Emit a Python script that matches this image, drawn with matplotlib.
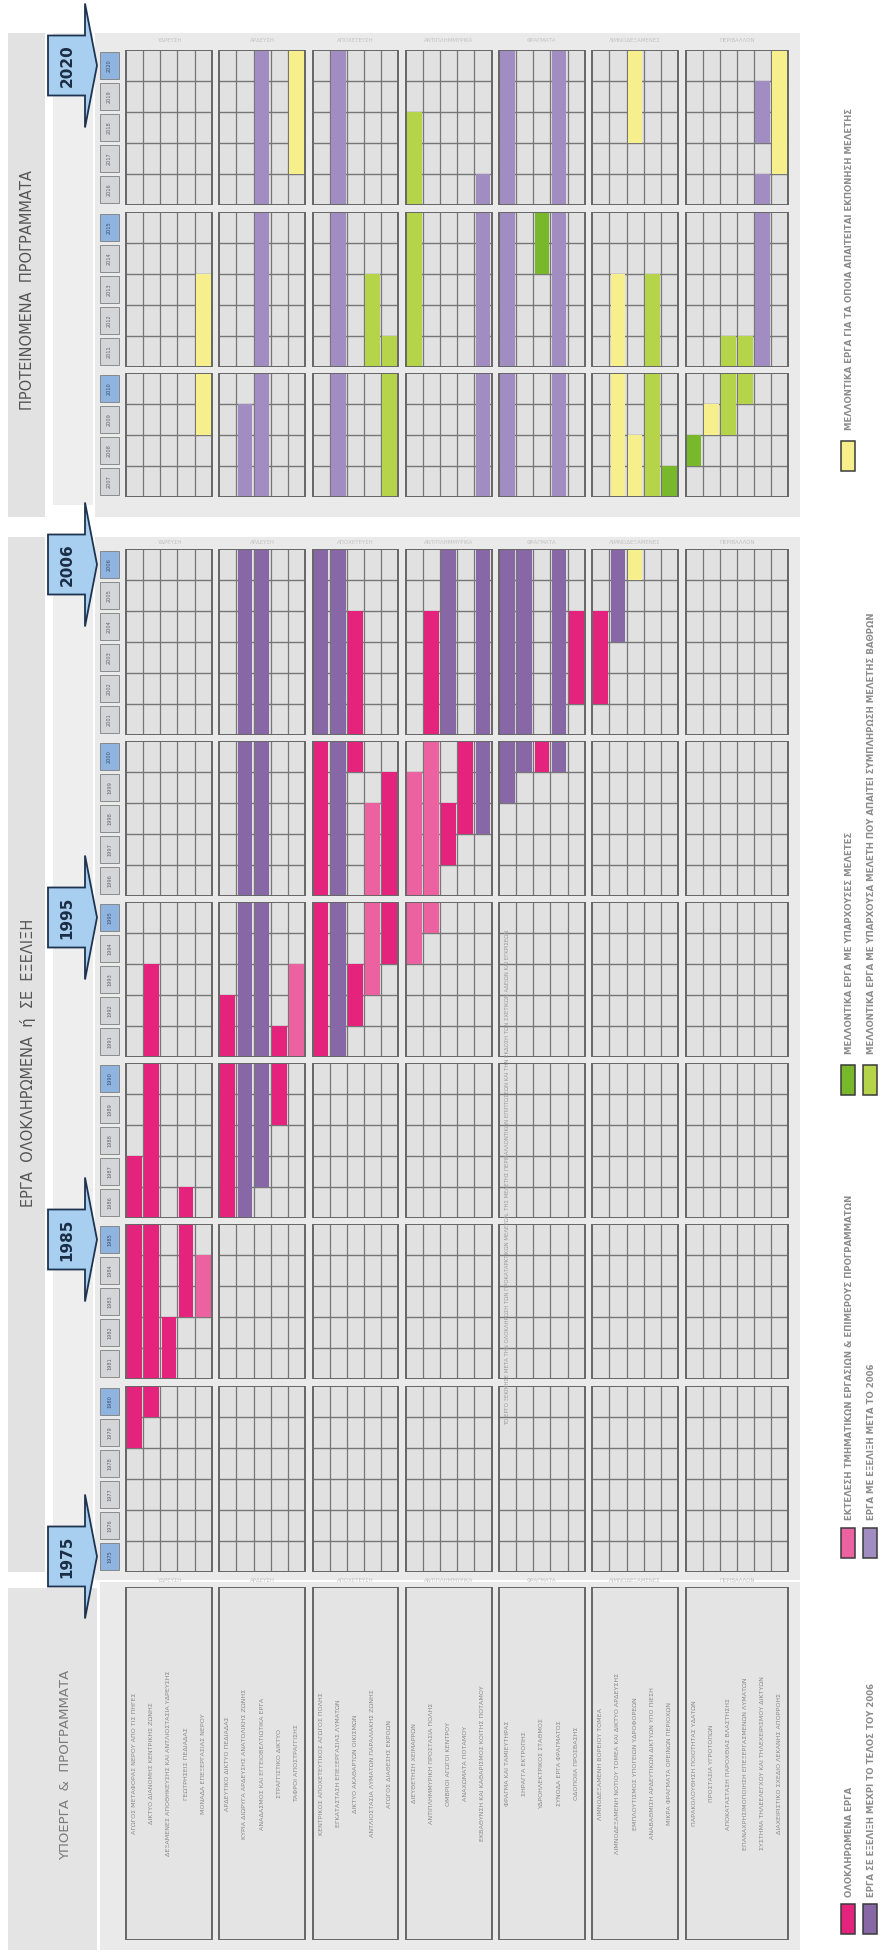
import matplotlib
matplotlib.use("Agg")
import matplotlib.pyplot as plt
from matplotlib.patches import Rectangle, Polygon

plt.rcParams["font.family"] = ["DejaVu Sans"]

W, H, DPI = 881, 1957, 100

# ---------------- data ----------------
group_sizes = [5, 5, 5, 5, 5, 5, 6]
group_titles = ["ΥΔΡΕΥΣΗ", "ΑΡΔΕΥΣΗ", "ΑΠΟΧΕΤΕΥΣΗ", "ΑΝΤΙΠΛΗΜΜΥΡΙΚΑ",
                "ΦΡΑΓΜΑΤΑ", "ΛΙΜΝΟΔΕΞΑΜΕΝΕΣ", "ΠΕΡΙΒΑΛΛΟΝ"]
subprojects = [
    "ΑΓΩΓΟΣ ΜΕΤΑΦΟΡΑΣ ΝΕΡΟΥ ΑΠΟ ΤΙΣ ΠΗΓΕΣ",
    "ΔΙΚΤΥΟ ΔΙΑΝΟΜΗΣ ΚΕΝΤΡΙΚΗΣ ΖΩΝΗΣ",
    "ΔΕΞΑΜΕΝΕΣ ΑΠΟΘΗΚΕΥΣΗΣ ΚΑΙ ΑΝΤΛΙΟΣΤΑΣΙΑ ΥΔΡΕΥΣΗΣ",
    "ΓΕΩΤΡΗΣΕΙΣ ΠΕΔΙΑΔΑΣ",
    "ΜΟΝΑΔΑ ΕΠΕΞΕΡΓΑΣΙΑΣ ΝΕΡΟΥ",
    "ΑΡΔΕΥΤΙΚΟ ΔΙΚΤΥΟ ΠΕΔΙΑΔΑΣ",
    "ΚΥΡΙΑ ΔΙΩΡΥΓΑ ΑΡΔΕΥΣΗΣ ΑΝΑΤΟΛΙΚΗΣ ΖΩΝΗΣ",
    "ΑΝΑΔΑΣΜΟΣ ΚΑΙ ΕΓΓΕΙΟΒΕΛΤΙΩΤΙΚΑ ΕΡΓΑ",
    "ΣΤΡΑΓΓΙΣΤΙΚΟ ΔΙΚΤΥΟ",
    "ΤΑΦΡΟΙ ΑΠΟΣΤΡΑΓΓΙΣΗΣ",
    "ΚΕΝΤΡΙΚΟΣ ΑΠΟΧΕΤΕΥΤΙΚΟΣ ΑΓΩΓΟΣ ΠΟΛΗΣ",
    "ΕΓΚΑΤΑΣΤΑΣΗ ΕΠΕΞΕΡΓΑΣΙΑΣ ΛΥΜΑΤΩΝ",
    "ΔΙΚΤΥΟ ΑΚΑΘΑΡΤΩΝ ΟΙΚΙΣΜΩΝ",
    "ΑΝΤΛΙΟΣΤΑΣΙΑ ΛΥΜΑΤΩΝ ΠΑΡΑΛΙΑΚΗΣ ΖΩΝΗΣ",
    "ΑΓΩΓΟΣ ΔΙΑΘΕΣΗΣ ΕΚΡΟΩΝ",
    "ΔΙΕΥΘΕΤΗΣΗ ΧΕΙΜΑΡΡΩΝ",
    "ΑΝΤΙΠΛΗΜΜΥΡΙΚΗ ΠΡΟΣΤΑΣΙΑ ΠΟΛΗΣ",
    "ΟΜΒΡΙΟΙ ΑΓΩΓΟΙ ΚΕΝΤΡΟΥ",
    "ΑΝΑΧΩΜΑΤΑ ΠΟΤΑΜΟΥ",
    "ΕΚΒΑΘΥΝΣΗ ΚΑΙ ΚΑΘΑΡΙΣΜΟΣ ΚΟΙΤΗΣ ΠΟΤΑΜΟΥ",
    "ΦΡΑΓΜΑ ΚΑΙ ΤΑΜΙΕΥΤΗΡΑΣ",
    "ΣΗΡΑΓΓΑ ΕΚΤΡΟΠΗΣ",
    "ΥΔΡΟΗΛΕΚΤΡΙΚΟΣ ΣΤΑΘΜΟΣ",
    "ΣΥΝΟΔΑ ΕΡΓΑ ΦΡΑΓΜΑΤΟΣ",
    "ΟΔΟΠΟΙΙΑ ΠΡΟΣΒΑΣΗΣ",
    "ΛΙΜΝΟΔΕΞΑΜΕΝΗ ΒΟΡΕΙΟΥ ΤΟΜΕΑ",
    "ΛΙΜΝΟΔΕΞΑΜΕΝΗ ΝΟΤΙΟΥ ΤΟΜΕΑ ΚΑΙ ΔΙΚΤΥΟ ΑΡΔΕΥΣΗΣ",
    "ΕΜΠΛΟΥΤΙΣΜΟΣ ΥΠΟΓΕΙΩΝ ΥΔΡΟΦΟΡΕΩΝ",
    "ΑΝΑΒΑΘΜΙΣΗ ΑΡΔΕΥΤΙΚΩΝ ΔΙΚΤΥΩΝ ΥΠΟ ΠΙΕΣΗ",
    "ΜΙΚΡΑ ΦΡΑΓΜΑΤΑ ΟΡΕΙΝΩΝ ΠΕΡΙΟΧΩΝ",
    "ΠΑΡΑΚΟΛΟΥΘΗΣΗ ΠΟΙΟΤΗΤΑΣ ΥΔΑΤΩΝ",
    "ΠΡΟΣΤΑΣΙΑ ΥΓΡΟΤΟΠΩΝ",
    "ΑΠΟΚΑΤΑΣΤΑΣΗ ΠΑΡΟΧΘΙΑΣ ΒΛΑΣΤΗΣΗΣ",
    "ΕΠΑΝΑΧΡΗΣΙΜΟΠΟΙΗΣΗ ΕΠΕΞΕΡΓΑΣΜΕΝΩΝ ΛΥΜΑΤΩΝ",
    "ΣΥΣΤΗΜΑ ΤΗΛΕΕΛΕΓΧΟΥ ΚΑΙ ΤΗΛΕΧΕΙΡΙΣΜΟΥ ΔΙΚΤΥΩΝ",
    "ΔΙΑΧΕΙΡΙΣΤΙΚΟ ΣΧΕΔΙΟ ΛΕΚΑΝΗΣ ΑΠΟΡΡΟΗΣ",
]
note_row = 20
note_text = ("ΤΟ ΕΡΓΟ ΞΕΚΙΝΗΣΕ ΜΕΤΑ ΤΗΝ ΟΛΟΚΛΗΡΩΣΗ ΤΩΝ ΠΡΟΚΑΤΑΡΚΤΙΚΩΝ ΜΕΛΕΤΩΝ, "
             "ΤΗΣ ΜΕΛΕΤΗΣ ΠΕΡΙΒΑΛΛΟΝΤΙΚΩΝ ΕΠΙΠΤΩΣΕΩΝ ΚΑΙ ΤΗΝ ΕΚΔΟΣΗ ΤΩΝ ΣΧΕΤΙΚΩΝ "
             "ΑΔΕΙΩΝ ΚΑΙ ΕΓΚΡΙΣΕΩΝ")

# (row, first year, last year)
completed = [(0, 1979, 1987), (1, 1980, 1993), (2, 1981, 1982), (3, 1983, 1986),
             (5, 1986, 1992), (8, 1989, 1991), (10, 1991, 2000), (12, 1992, 1993),
             (12, 2000, 2004), (14, 1994, 1999), (16, 2001, 2004), (17, 1997, 1998),
             (18, 1998, 2000), (22, 2000, 2000), (24, 2002, 2004), (25, 2002, 2004)]
partial = [(4, 1983, 1984), (9, 1991, 1993), (13, 1993, 1998), (15, 1994, 1999),
           (16, 1995, 2000)]
ongoing = [(6, 1986, 2006), (7, 1987, 2006), (10, 2001, 2006), (11, 1991, 2006),
           (17, 2001, 2006), (19, 1998, 2006), (20, 1999, 2006), (21, 2000, 2006),
           (23, 2000, 2006), (26, 2004, 2006)]
after_2006 = [(6, 2007, 2009), (7, 2007, 2020), (11, 2007, 2020), (19, 2007, 2016),
              (20, 2007, 2020), (23, 2007, 2020), (34, 2011, 2016), (34, 2018, 2019)]
future_studied = [(22, 2014, 2015), (29, 2007, 2007), (30, 2008, 2008)]
future_partial_study = [(13, 2011, 2013), (14, 2007, 2011), (15, 2011, 2018),
                        (28, 2007, 2013), (32, 2009, 2011), (33, 2010, 2011)]
future_no_study = [(4, 2009, 2013), (9, 2017, 2020), (26, 2007, 2013), (27, 2006, 2008),
                   (27, 2018, 2020), (31, 2009, 2009), (35, 2017, 2020)]

year_blocks = [(2016, 2020), (2011, 2015), (2007, 2010), (2001, 2006), (1996, 2000),
               (1991, 1995), (1986, 1990), (1981, 1985), (1975, 1980)]
milestones = [2020, 2006, 1995, 1985, 1975]

series = [
    (completed, "#e4247c", "ΟΛΟΚΛΗΡΩΜΕΝΑ ΕΡΓΑ"),
    (ongoing, "#8767a5", "ΕΡΓΑ ΣΕ ΕΞΕΛΙΞΗ ΜΕΧΡΙ ΤΟ ΤΕΛΟΣ ΤΟΥ 2006"),
    (partial, "#ec62a0", "ΕΚΤΕΛΕΣΗ ΤΜΗΜΑΤΙΚΩΝ ΕΡΓΑΣΙΩΝ & ΕΠΙΜΕΡΟΥΣ ΠΡΟΓΡΑΜΜΑΤΩΝ"),
    (after_2006, "#a28dc2", "ΕΡΓΑ ΜΕ ΕΞΕΛΙΞΗ ΜΕΤΑ ΤΟ 2006"),
    (future_studied, "#79b82b", "ΜΕΛΛΟΝΤΙΚΑ ΕΡΓΑ ΜΕ ΥΠΑΡΧΟΥΣΕΣ ΜΕΛΕΤΕΣ"),
    (future_partial_study, "#b5d44a",
     "ΜΕΛΛΟΝΤΙΚΑ ΕΡΓΑ ΜΕ ΥΠΑΡΧΟΥΣΑ ΜΕΛΕΤΗ ΠΟΥ ΑΠΑΙΤΕΙ ΣΥΜΠΛΗΡΩΣΗ ΜΕΛΕΤΗΣ ΒΑΘΡΩΝ"),
    (future_no_study, "#f7ef8c", "ΜΕΛΛΟΝΤΙΚΑ ΕΡΓΑ ΓΙΑ ΤΑ ΟΠΟΙΑ ΑΠΑΙΤΕΙΤΑΙ ΕΚΠΟΝΗΣΗ ΜΕΛΕΤΗΣ"),
]

# ---------------- layout (pixels) ----------------
ROW_H = 31
block_tops = [50, 212, 373, 549, 741, 902, 1063, 1224, 1386]
X0, CW, GG = 126, 17.15, 7.5
AX_L, AX_R = 96, 792
GAP = GG / CW
XLIM = ((AX_L - X0) / CW, (AX_R - X0) / CW)
YEAR_COL = ((100 - X0) / CW, (119 - X0) / CW)

group_of = [g for g, n in enumerate(group_sizes) for _ in range(n)]
group_start = [sum(group_sizes[:g]) for g in range(len(group_sizes))]


def slot(row):
    return row + group_of[row] * GAP


def px_x(u):
    return X0 + u * CW


def year_px(year):
    for (first, last), top in zip(year_blocks, block_tops):
        if first <= year <= last:
            return top + (last - year + 0.5) * ROW_H


def frac(x0, y0, x1, y1):
    return [x0 / W, 1 - y1 / H, (x1 - x0) / W, (y1 - y0) / H]


LINE = "#767676"
CELL = "#e1e1e1"

fig = plt.figure(figsize=(W / DPI, H / DPI), dpi=DPI)

# background panels
bg = fig.add_axes([0, 0, 1, 1])
bg.set_xlim(0, W)
bg.set_ylim(H, 0)
bg.axis("off")
for (x0, y0, x1, y1, c) in [(8, 33, 45, 517, "#e2e2e2"), (8, 537, 45, 1572, "#e2e2e2"),
                            (53, 33, 93, 505, "#eeeeee"), (53, 537, 93, 1550, "#eeeeee"),
                            (95, 33, 800, 517, "#eaeaea"), (95, 537, 800, 1580, "#eaeaea"),
                            (100, 1582, 800, 1950, "#eaeaea"), (8, 1588, 97, 1950, "#e4e4e4")]:
    bg.add_patch(Rectangle((x0, y0), x1 - x0, y1 - y0, facecolor=c, edgecolor="none"))

# time blocks
for (first, last), top in zip(year_blocks, block_tops):
    n = last - first + 1
    ax = fig.add_axes(frac(AX_L, top, AX_R, top + n * ROW_H))
    ax.set_xlim(*XLIM)
    ax.set_ylim(first - 0.5, last + 0.5)
    ax.axis("off")
    lo, hi = first - 0.5, last + 0.5
    for g, size in enumerate(group_sizes):
        gl = slot(group_start[g])
        gr = gl + size
        ax.add_patch(Rectangle((gl, lo), size, n, facecolor=CELL, edgecolor="none", zorder=1))
        ax.vlines([gl + k for k in range(1, size)], lo, hi, color=LINE, lw=0.9, zorder=2)
        ax.hlines([first - 0.5 + k for k in range(1, n)], gl, gr, color=LINE, lw=1.0, zorder=2)
        ax.add_patch(Rectangle((gl, lo), size, n, facecolor="none", edgecolor="#666666",
                               lw=1.4, zorder=4))
    for data, color, _ in series:
        for row, a, b in data:
            ax.bar(slot(row) + 0.5, b - a + 1, bottom=a - 0.5, width=0.86,
                   color=color, linewidth=0, zorder=3)
    # year column
    yc = (YEAR_COL[0] + YEAR_COL[1]) / 2
    yw = YEAR_COL[1] - YEAR_COL[0]
    for yr in range(first, last + 1):
        hl = yr == last or yr == 1975
        ax.bar(yc, 0.9, bottom=yr - 0.45, width=yw,
               color="#8fb4df" if hl else "#d3d5d9", edgecolor="#7d7d7d", lw=0.6, zorder=3)
        ax.text(yc, yr, str(yr), rotation=90, ha="center", va="center",
                fontsize=3.6, color="#3c4f6a" if hl else "#666666", zorder=5)

# subproject labels
lab = fig.add_axes(frac(AX_L, 1587, AX_R, 1940))
lab.set_xlim(*XLIM)
lab.set_ylim(0, 1)
lab.axis("off")
for g, size in enumerate(group_sizes):
    gl = slot(group_start[g])
    lab.add_patch(Rectangle((gl, 0), size, 1, facecolor="#e4e4e4", edgecolor="#666666",
                            lw=1.4, zorder=3))
    lab.vlines([gl + k for k in range(1, size)], 0, 1, color=LINE, lw=1.1, zorder=2)
for row, name in enumerate(subprojects):
    lab.text(slot(row) + 0.5, 0.5, name, rotation=90, ha="center", va="center",
             fontsize=4.6, color="#8a8a8a", zorder=4)

# overlay: titles, arrows, legend, notes
top = fig.add_axes([0, 0, 1, 1])
top.set_xlim(0, W)
top.set_ylim(H, 0)
top.axis("off")
top.patch.set_alpha(0)

title_kw = dict(rotation=90, ha="center", va="center", color="#555555", fontsize=10.5)
top.text(28, 290, "ΠΡΟΤΕΙΝΟΜΕΝΑ  ΠΡΟΓΡΑΜΜΑΤΑ", **title_kw)
top.text(28, 1063, "ΕΡΓΑ  ΟΛΟΚΛΗΡΩΜΕΝΑ  ή  ΣΕ  ΕΞΕΛΙΞΗ", **title_kw)
top.text(66, 1765, "ΥΠΟΕΡΓΑ  &  ΠΡΟΓΡΑΜΜΑΤΑ", rotation=90, ha="center", va="center",
         color="#7a7a7a", fontsize=9.5)

for g, size in enumerate(group_sizes):
    cx = px_x(slot(group_start[g]) + size / 2)
    for yy in (41, 543, 1580):
        top.text(cx, yy, group_titles[g], ha="center", va="center", fontsize=4,
                 color="#c2c2c2")

top.text(px_x(slot(note_row) + 0.5), 1177, note_text, rotation=90, ha="center",
         va="center", fontsize=3.9, color="#9a9a9a")

for yr in milestones:
    c = year_px(yr)
    pts = [(48, c - 30), (85, c - 30), (85, c - 62), (97, c), (85, c + 62),
           (85, c + 30), (48, c + 30)]
    top.add_patch(Polygon(pts, closed=True, facecolor="#a9cff0", edgecolor="#1d3350",
                          lw=1.3, zorder=5))
    top.text(67, c, str(yr), rotation=90, ha="center", va="center", fontsize=11,
             fontweight="bold", color="#1b2c45", zorder=6)

# legend
legend_pos = [(848, 1919, 1897), (870, 1919, 1897), (848, 1543, 1520), (870, 1543, 1520),
              (848, 1080, 1054), (870, 1080, 1054), (848, 456, 430)]
for (data, color, label), (lx, ly, ty) in zip(series, legend_pos):
    top.add_patch(Rectangle((lx - 7, ly - 15), 14, 30, facecolor=color,
                            edgecolor="#3a3a3a", lw=1.1))
    top.text(lx + 1, ty, label, rotation=90, rotation_mode="anchor", ha="left",
             va="center", fontsize=6.2, fontweight="bold", color="#8c8c8c")

fig.savefig("out.png", dpi=DPI)
